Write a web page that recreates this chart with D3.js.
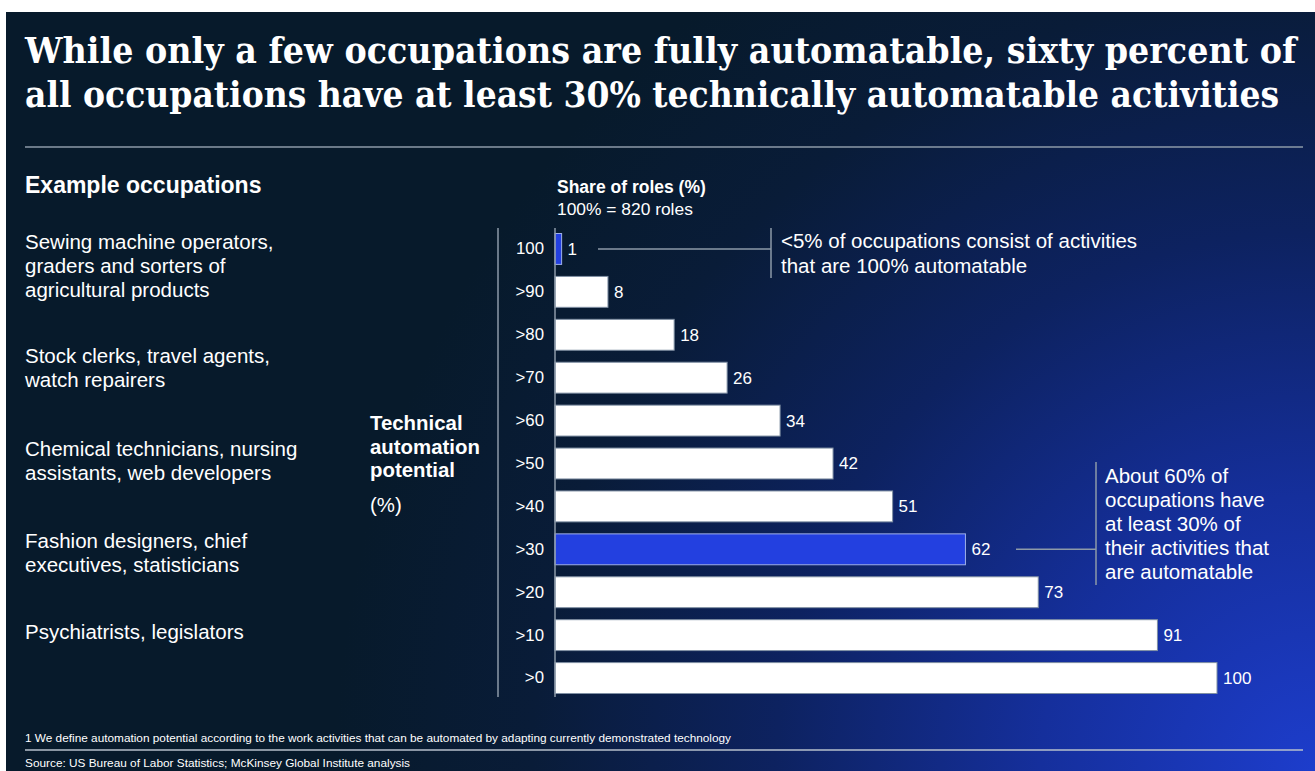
<!DOCTYPE html>
<html>
<head>
<meta charset="utf-8">
<script src="https://cdn.jsdelivr.net/npm/d3@7"></script>
<style>
  html, body { margin: 0; padding: 0; background: #ffffff; }
  svg { display: block; }
  text { font-family: "Liberation Sans", Arial, sans-serif; fill: #ffffff; }
</style>
</head>
<body>
<svg id="chart" width="1315" height="771"></svg>
<script>
// Share of roles by technical automation potential (100% = 820 roles)
const categories = ["100", ">90", ">80", ">70", ">60", ">50", ">40", ">30", ">20", ">10", ">0"];
const shares     = [1, 8, 18, 26, 34, 42, 51, 62, 73, 91, 100];
const highlighted = ["100", ">30"];

const titleLines = [
  "While only a few occupations are fully automatable, sixty percent of",
  "all occupations have at least 30% technically automatable activities"
];
const occupationGroups = [
  { row: "100", lines: ["Sewing machine operators,", "graders and sorters of", "agricultural products"] },
  { row: ">70", lines: ["Stock clerks, travel agents,", "watch repairers"] },
  { row: ">50", lines: ["Chemical technicians, nursing", "assistants, web developers"] },
  { row: ">30", lines: ["Fashion designers, chief", "executives, statisticians"] },
  { row: ">10", lines: ["Psychiatrists, legislators"] }
];
const noteTop = ["<5% of occupations consist of activities", "that are 100% automatable"];
const noteMid = ["About 60% of", "occupations have", "at least 30% of", "their activities that", "are automatable"];
const footnote = "1 We define automation potential according to the work activities that can be automated by adapting currently demonstrated technology";
const source = "Source: US Bureau of Labor Statistics; McKinsey Global Institute analysis";

const svg = d3.select("#chart");
const W = 1315, H = 771;

// Background panel with a dark-to-blue glow toward the lower right
const defs = svg.append("defs");
const grad = defs.append("radialGradient")
  .attr("id", "bg").attr("gradientUnits", "userSpaceOnUse")
  .attr("cx", W).attr("cy", H).attr("r", 980);
[[0, "#1d3dcc"], [0.28, "#152f9c"], [0.55, "#0d2260"], [0.8, "#091c38"], [1, "#071a2b"]]
  .forEach(([o, c]) => grad.append("stop").attr("offset", o).attr("stop-color", c));
svg.append("rect").attr("x", 6).attr("y", 12).attr("width", W - 6).attr("height", H - 12)
  .attr("fill", "url(#bg)");

// Title, condensed horizontally to its line width
const titleWidths = [1272, 1255];
titleLines.forEach((t, i) => {
  const g = svg.append("g");
  const el = g.append("text")
    .attr("x", 0).attr("y", 0)
    .style("font-family", "'DejaVu Serif', Georgia, serif")
    .style("font-weight", "bold").style("font-size", "34.5px")
    .text(t);
  const sx = titleWidths[i] / el.node().getComputedTextLength();
  g.attr("transform", `translate(25,${63 + i * 44}) scale(${sx},1)`);
});

const ruleColor = "#8d9aa8";
svg.append("line").attr("x1", 25).attr("x2", 1303).attr("y1", 147).attr("y2", 147)
  .attr("stroke", ruleColor).attr("stroke-width", 1.5);

// Scales
const x = d3.scaleLinear().domain([0, 100]).range([555, 1217]);
const y = d3.scaleBand().domain(categories).range([227.5, 699.5]).paddingInner(0.28).paddingOuter(0.14);

// Left column: example occupations
svg.append("text").attr("x", 25).attr("y", 193)
  .style("font-weight", "bold").style("font-size", "23px").text("Example occupations");
const occStarts = { "100": 249, ">70": 363, ">50": 456, ">30": 548, ">10": 639 };
occupationGroups.forEach(g => {
  const t = svg.append("text").attr("x", 25).attr("y", occStarts[g.row]).style("font-size", "20.5px");
  g.lines.forEach((l, i) => t.append("tspan").attr("x", 25).attr("dy", i === 0 ? 0 : 24).text(l));
});

// Axis title
const at = svg.append("text").attr("x", 370).attr("y", 430)
  .style("font-weight", "bold").style("font-size", "20.4px");
["Technical", "automation", "potential"].forEach((l, i) =>
  at.append("tspan").attr("x", 370).attr("dy", i === 0 ? 0 : 23.5).text(l));
svg.append("text").attr("x", 370).attr("y", 512).style("font-size", "20.4px").text("(%)");

// Divider left of the category labels
svg.append("line").attr("x1", 498).attr("x2", 498).attr("y1", 228).attr("y2", 697)
  .attr("stroke", ruleColor).attr("stroke-width", 1.5);

// Share header
svg.append("text").attr("x", 557).attr("y", 193)
  .style("font-weight", "bold").style("font-size", "17.5px").text("Share of roles (%)");
svg.append("text").attr("x", 557).attr("y", 215)
  .style("font-size", "17.4px").text("100% = 820 roles");

// Category axis
const yAxis = d3.axisLeft(y).tickSize(0).tickPadding(11);
const gy = svg.append("g").attr("transform", `translate(${x(0)},0)`).call(yAxis);
gy.select(".domain").remove();
gy.selectAll("text").style("font-size", "16.8px").style("font-family", "'Liberation Sans', Arial, sans-serif")
  .attr("fill", "#ffffff");

// Bars
const rows = categories.map((c, i) => ({ cat: c, v: shares[i] }));
svg.append("g").selectAll("rect").data(rows).join("rect")
  .attr("x", x(0))
  .attr("y", d => y(d.cat))
  .attr("width", d => x(d.v) - x(0))
  .attr("height", y.bandwidth())
  .attr("fill", d => highlighted.includes(d.cat) ? "#2340e0" : "#ffffff")
  .attr("stroke", d => highlighted.includes(d.cat) ? "#9fb0e8" : "#7f8fa3")
  .attr("stroke-width", 1);

// Baseline
svg.append("line").attr("x1", x(0)).attr("x2", x(0)).attr("y1", 228).attr("y2", 697)
  .attr("stroke", ruleColor).attr("stroke-width", 1.5);

// Value labels
svg.append("g").selectAll("text").data(rows).join("text")
  .attr("x", d => x(d.v) + 6)
  .attr("y", d => y(d.cat) + y.bandwidth() / 2)
  .attr("dy", "0.35em")
  .style("font-size", "17px")
  .text(d => d.v);

// Callout for the 100% row
const cy1 = y("100") + y.bandwidth() / 2;
svg.append("line").attr("x1", 598).attr("x2", 771).attr("y1", cy1).attr("y2", cy1)
  .attr("stroke", ruleColor).attr("stroke-width", 1.5);
svg.append("line").attr("x1", 771).attr("x2", 771).attr("y1", 228).attr("y2", 278)
  .attr("stroke", ruleColor).attr("stroke-width", 1.5);
const n1 = svg.append("text").attr("x", 781).attr("y", 248).style("font-size", "20.5px");
noteTop.forEach((l, i) => n1.append("tspan").attr("x", 781).attr("dy", i === 0 ? 0 : 25).text(l));

// Callout for the >30 row
const cy2 = y(">30") + y.bandwidth() / 2;
svg.append("line").attr("x1", 1016).attr("x2", 1096).attr("y1", cy2).attr("y2", cy2)
  .attr("stroke", ruleColor).attr("stroke-width", 1.5);
svg.append("line").attr("x1", 1096).attr("x2", 1096).attr("y1", 462).attr("y2", 585)
  .attr("stroke", ruleColor).attr("stroke-width", 1.5);
const n2 = svg.append("text").attr("x", 1105).attr("y", 483).style("font-size", "20.5px");
noteMid.forEach((l, i) => n2.append("tspan").attr("x", 1105).attr("dy", i === 0 ? 0 : 24).text(l));

// Footer
const footFont = "'Liberation Sans Narrow', 'Arial Narrow', 'Liberation Sans', sans-serif";
svg.append("text").attr("x", 25).attr("y", 742)
  .style("font-family", footFont).style("font-size", "11.5px")
  .attr("textLength", 706).attr("lengthAdjust", "spacingAndGlyphs")
  .text(footnote);
svg.append("line").attr("x1", 25).attr("x2", 1303).attr("y1", 750).attr("y2", 750)
  .attr("stroke", "#b7c0cc").attr("stroke-width", 1.5);
svg.append("text").attr("x", 25).attr("y", 767)
  .style("font-family", footFont).style("font-size", "11.5px")
  .attr("textLength", 385).attr("lengthAdjust", "spacingAndGlyphs")
  .text(source);
</script>
</body>
</html>
